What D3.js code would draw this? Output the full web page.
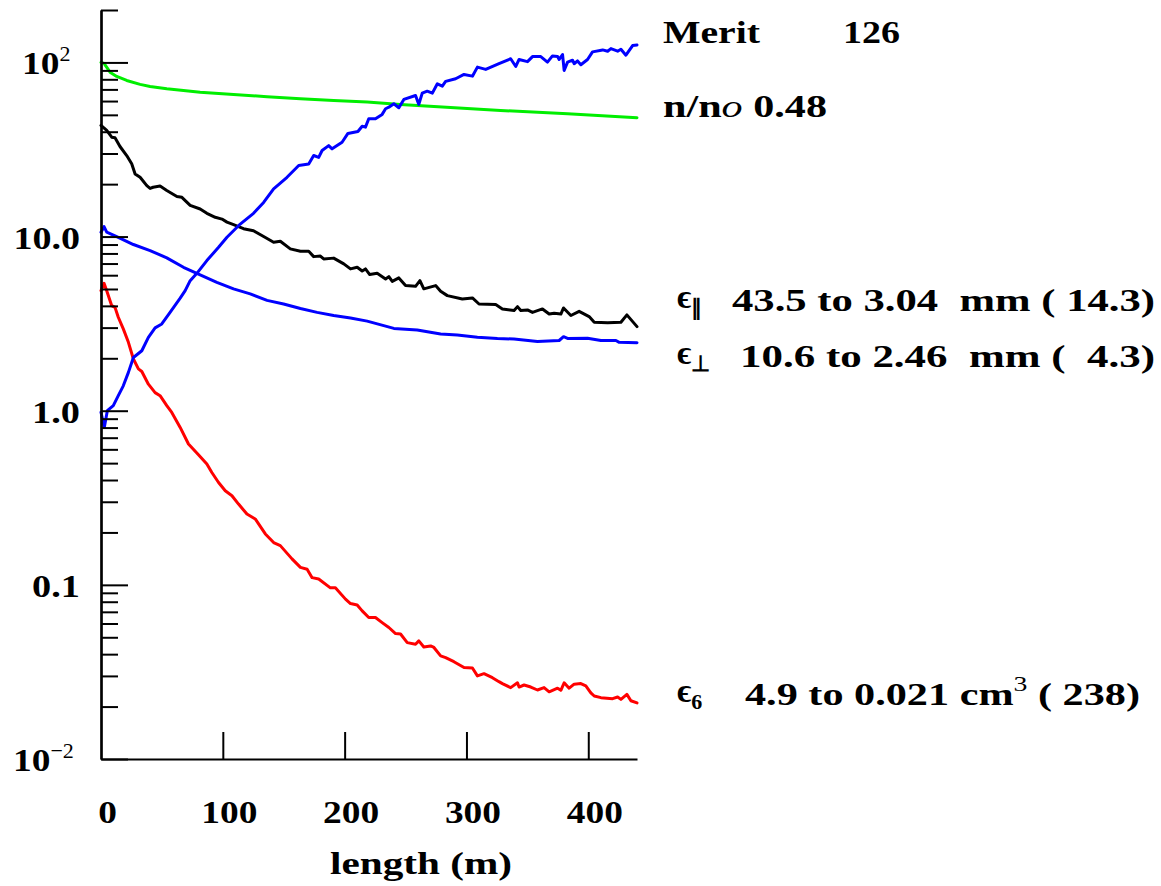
<!DOCTYPE html>
<html><head><meta charset="utf-8">
<script src="https://cdn.jsdelivr.net/npm/d3@7"></script>
<style>
body{margin:0;background:#fff}
svg{display:block}
text{font-family:"Liberation Serif","Times New Roman",serif;font-weight:bold;fill:#000}
</style>
</head><body>
<svg id="c" width="1161" height="886"></svg>
<script>
// ---------------- data (length in m, value) ----------------
const nRatio = [[0,100],[2.5,98.7],[7.4,87.9],[12.9,83.1],[21.1,78.8],[32.1,74.8],[40.3,72.8],[54,70.6],[81.4,67.5],[108.8,65.5],[136.3,63.5],[163.7,61.8],[191,60.5],[218.5,59.2],[245.9,57.4],[328,53.0],[383,50.7],[440,48.1]];
const epsPar = [[0,43.5],[4.7,40.7],[8.8,37.2],[11.5,36.9],[15.6,32.9],[21.1,29.2],[25.2,26.2],[28,22.9],[32.1,21.9],[37.6,19.6],[40.3,18.9],[42.8,19.2],[48.5,19.5],[54,18.4],[62.3,17.0],[66.4,16.8],[73.2,15.1],[81.4,14.4],[86.9,13.6],[93.8,12.9],[99.3,12.6],[103.4,12.1],[108.8,11.7],[117,11.1],[125.2,10.8],[133.5,10.0],[141.7,9.27],[147.2,9.40],[155.4,8.50],[163.7,8.23],[170.5,8.23],[174.6,7.67],[180.1,7.73],[182.8,7.44],[191,7.52],[199.3,6.97],[204.8,6.52],[210.3,6.66],[214.4,6.34],[217.1,6.52],[220.6,6.05],[226.7,6.15],[233.6,5.71],[236.3,5.89],[239.1,5.53],[244.5,5.79],[250,5.23],[258.2,5.18],[261.8,5.58],[265,5.01],[274.7,5.23],[278.8,4.85],[284.3,4.58],[296.6,4.38],[304.9,4.44],[310.3,4.10],[324,4.07],[329.5,3.84],[339.1,3.76],[341.9,3.96],[344.6,3.76],[350.1,3.79],[354.2,3.67],[362.4,3.84],[367.9,3.59],[372,3.63],[377.5,3.59],[379.7,3.89],[385.7,3.52],[392.5,3.72],[400.7,3.47],[404.9,3.22],[415.9,3.20],[426.8,3.22],[431.7,3.55],[440,3.04]];
const epsPerp = [[0,10.6],[2.5,11.4],[4.7,10.6],[12.9,10.0],[26.6,9.0],[40.3,8.31],[54,7.55],[67.7,6.66],[81.4,6.03],[95.1,5.46],[108.8,5.01],[122.5,4.69],[136.3,4.30],[149.9,4.10],[163.7,3.86],[177.4,3.67],[191,3.52],[204.8,3.41],[218.5,3.27],[240.4,2.97],[259.6,2.91],[278.8,2.76],[292.5,2.72],[309,2.64],[325.4,2.60],[339.1,2.58],[358.3,2.50],[376.1,2.53],[379.7,2.66],[383,2.60],[399.4,2.61],[410.4,2.53],[422.7,2.53],[425.4,2.47],[440,2.46]];
const merit = [[0,0.98],[2.7,0.80],[5.2,1.0],[10.1,1.07],[14.2,1.22],[18.3,1.39],[22.5,1.66],[26.6,2.02],[33.5,2.21],[38.9,2.64],[44.4,2.99],[49.9,3.15],[56.7,3.67],[65,4.43],[69.1,4.89],[73.2,5.58],[78.7,6.15],[86.9,7.28],[96.5,8.68],[103.4,9.91],[114.3,11.8],[125.2,13.6],[133.5,15.7],[141.7,18.8],[152.7,21.9],[162.3,25.6],[170.5,26.1],[174.6,29.2],[178.7,28.5],[181.5,31.2],[186.9,33.3],[189.7,31.9],[197.9,34.8],[202.7,39.1],[210.9,40.1],[214.4,43.0],[217.1,42.5],[219.8,47.5],[225.3,47.5],[230.8,50.3],[233.6,54.2],[236.3,55.3],[240.4,57.9],[244.5,54.9],[248.6,61.3],[258.2,64.6],[260.9,57.4],[263.7,66.6],[267.8,68.4],[272,66.6],[276.1,75.4],[280.2,73.1],[282.9,77.8],[291.1,80.6],[298,85.3],[304.9,83.4],[309,94.0],[315.8,91.2],[326.7,98.3],[336.3,105],[340.5,94.8],[343.2,104],[350.1,101],[354.2,108],[361,108],[366.5,100.4],[370.6,109],[374.8,108],[376.1,104],[378.9,111],[380.2,90],[383,100.4],[387.1,103],[388.4,98.3],[391.2,102],[393.9,97],[399.4,104],[403.5,115],[411.8,118],[415.9,116],[418.6,120],[424.1,116],[426.8,119],[430.9,110],[436.4,125],[440,126]];
const eps6 = [[0,4.9],[2.5,5.39],[4.7,4.89],[8.8,4.01],[11.5,3.92],[14.2,3.44],[18.3,2.95],[22.5,2.47],[26.6,1.98],[30.7,1.74],[33.5,1.68],[38.9,1.42],[44.4,1.27],[48.5,1.22],[54,1.07],[58.1,0.978],[65,0.802],[71.8,0.644],[80,0.559],[86.9,0.494],[91,0.442],[96.5,0.387],[102,0.347],[107.5,0.325],[112.9,0.291],[119.8,0.255],[126.6,0.239],[134.9,0.196],[141.7,0.175],[147.2,0.168],[156.8,0.141],[163.7,0.126],[169.2,0.123],[173.3,0.110],[178.7,0.108],[188.3,0.0961],[192.4,0.0963],[200.7,0.0828],[204.8,0.0781],[210.3,0.0767],[214.4,0.0709],[219.8,0.0649],[225.3,0.0649],[230.8,0.0607],[236.3,0.0569],[241.8,0.0525],[245.9,0.0522],[251.4,0.0466],[258.2,0.0456],[260.9,0.0477],[265,0.0440],[270.6,0.0446],[273.3,0.0437],[278.8,0.0391],[282.9,0.0382],[289.7,0.0362],[298,0.0335],[304.9,0.0333],[309,0.0300],[314.4,0.0309],[321.3,0.0293],[326.7,0.0278],[329.5,0.0271],[336.3,0.0257],[341.9,0.0274],[343.2,0.0259],[347.3,0.0266],[352.8,0.0259],[358.3,0.0249],[363.7,0.0257],[367.9,0.0243],[374.8,0.0255],[377.5,0.0248],[380.2,0.0274],[384.3,0.0255],[388.4,0.0269],[393.9,0.0271],[398,0.0263],[402.1,0.0240],[404.9,0.0230],[410.4,0.0225],[420,0.0222],[424.1,0.0227],[426.8,0.0220],[431.7,0.0235],[435,0.0216],[440,0.0210]];

// ---------------- ticks & labels ----------------
const xTicks = [0,100,200,300,400];
const xLabel = "length (m)";
const yMajor = [0.01,0.1,1,10,100];
const yTickBase = ["10","0.1","1.0","10.0","10"];
const yTickSup  = ["\u22122","","","","2"];

const meritText = ["Merit","126"];
const ratioText = ["n/n","o","0.48"];
const emitSub   = ["\u2225","\u22a5","6"];
const emitFrom  = ["43.5","10.6","4.9"];
const emitTo    = ["3.04","2.46","0.021"];
const emitUnit  = ["mm","mm","cm"];
const emitSup   = ["","","3"];
const emitRatio = [" 14.3","  4.3"," 238"];

// ---------------- layout ----------------
const svg=d3.select("#c");
const x=d3.scaleLinear().domain([0,440]).range([101,637]);
const y=d3.scaleLog().domain([0.01,200]).range([759,10]);
const FS=32;
// width of a numeric label in the reference's extended bold face
const numW=s=>[...s].reduce((a,c)=>a+(c==="."?10.5:18.7),0);
const fit=(sel,w)=>sel.attr("textLength",w).attr("lengthAdjust","spacingAndGlyphs");

// curves
const line=d3.line().x(d=>x(d[0])).y(d=>y(d[1]));
const series=[
  {d:nRatio,c:"#00ee00"},
  {d:epsPar,c:"#000000"},
  {d:eps6,c:"#ff0000"},
  {d:epsPerp,c:"#0000ff"},
  {d:merit,c:"#0000ff"}
];
svg.append("g").selectAll("path").data(series).join("path")
  .attr("d",s=>line(s.d)).attr("fill","none").attr("stroke",s=>s.c)
  .attr("stroke-width",3).attr("stroke-linejoin","round").attr("stroke-linecap","round");

// y axis
const yMinor=y.ticks().filter(v=>!yMajor.some(m=>Math.abs(m-v)/m<1e-6));
const gyMinor=svg.append("g").attr("transform","translate(101,0)")
  .call(d3.axisLeft(y).tickValues(yMinor).tickSizeInner(-17).tickSizeOuter(0).tickFormat(""));
const gy=svg.append("g").attr("transform","translate(101,0)")
  .call(d3.axisLeft(y).tickValues(yMajor).tickSizeInner(-27).tickSizeOuter(0).tickPadding(21).tickFormat(()=>""));
[gyMinor,gy].forEach(g=>{g.selectAll("line").attr("stroke-width",2);g.select(".domain").attr("stroke-width",2.2);});
gy.attr("font-size",FS).attr("font-family",null);
gy.selectAll(".tick text").each(function(d,i){
  const t=d3.select(this);
  if(yTickSup[i]){
    t.attr("text-anchor","start").attr("dy","0.36em");
    const b=t.append("tspan").text(yTickBase[i]); fit(b,numW(yTickBase[i]));
    t.append("tspan").attr("dy",-13).attr("font-size",22).attr("font-weight","normal").text(yTickSup[i]);
    t.attr("x", yTickSup[i]==="2" ? -79 : -88);
  } else {
    t.attr("dy","0.36em");
    fit(t.text(yTickBase[i]),numW(yTickBase[i]));
  }
});

// x axis
const gx=svg.append("g").attr("transform","translate(0,759)")
  .call(d3.axisBottom(x).tickValues(xTicks).tickSizeInner(-27).tickSizeOuter(0).tickFormat(d3.format("d")));
gx.selectAll("line").attr("stroke-width",2);
gx.select(".domain").attr("stroke-width",2.2);
gx.attr("font-size",FS).attr("font-family",null);
gx.selectAll(".tick text").attr("y",64).attr("dy",null).attr("dx",6)
  .each(function(d){fit(d3.select(this),numW(String(d)));});
gx.selectAll(".tick").filter(d=>d===0).select("line").remove();

fit(svg.append("text").attr("x",330).attr("y",874).attr("font-size",FS).text(xLabel),182);

// right-side annotations
fit(svg.append("text").attr("x",663).attr("y",43).attr("font-size",FS).text(meritText[0]),97);
fit(svg.append("text").attr("x",843).attr("y",43).attr("font-size",FS).text(meritText[1]),57);
const rt=svg.append("text").attr("x",663).attr("y",117).attr("font-size",FS).attr("xml:space","preserve");
rt.append("tspan").text(ratioText[0]);
rt.append("tspan").attr("font-style","italic").attr("font-weight","normal").text(ratioText[1]);
rt.append("tspan").text(" "+ratioText[2]);
fit(rt,164);

const rowY=[311,367,705];
const rowX0=[732,740,745], rowX1=[1155,1155,1140];
const rowGap=["  ","  ","   "];
for(let i=0;i<3;i++){
  const ty=rowY[i];
  const e=svg.append("text").attr("x",677).attr("y",ty-3).attr("font-weight","normal")
    .attr("font-family","'DejaVu Serif',serif");
  e.append("tspan").attr("font-size",34).text("\u03f5");
  e.append("tspan").attr("dy",7).attr("font-size",22).text(emitSub[i]);
  const t=svg.append("text").attr("x",rowX0[i]).attr("y",ty).attr("font-size",FS).attr("xml:space","preserve");
  t.append("tspan").text(emitFrom[i]+" to "+emitTo[i]+(emitSup[i]?" ":"  ")+emitUnit[i]);
  if(emitSup[i]) t.append("tspan").attr("dy",-14).attr("font-size",21).attr("font-weight","normal").text(emitSup[i]);
  t.append("tspan").attr("dy",emitSup[i]?14:0).text(" ("+emitRatio[i]+")");
  fit(t,rowX1[i]-rowX0[i]);
}
</script>
</body></html>
